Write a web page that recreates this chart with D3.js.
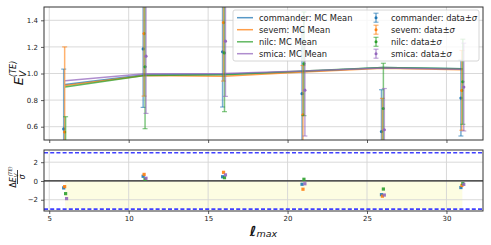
<!DOCTYPE html>
<html>
<head>
<meta charset="utf-8">
<script src="https://cdn.jsdelivr.net/npm/d3@7"></script>
<style>
  html, body { margin: 0; padding: 0; background: #fff; }
  svg { display: block; font-family: "DejaVu Sans", sans-serif; }
</style>
</head>
<body>
<svg id="chart" width="491" height="245"></svg>
<script>
// data
var lmax = [6, 11, 16, 21, 26, 31];
var maps = ['commander', 'sevem', 'nilc', 'smica'];
var colors = ['#1f77b4', '#ff7f0e', '#2ca02c', '#9467bd'];
var offsets = [-0.09, -0.03, 0.03, 0.09];

var mcMean = {
    commander: [0.917, 0.990, 0.995, 1.015, 1.045, 1.035],
    sevem:     [0.910, 0.985, 0.980, 1.012, 1.040, 1.028],
    nilc:      [0.898, 0.985, 0.990, 1.018, 1.045, 1.035],
    smica:     [0.945, 0.998, 1.000, 1.018, 1.042, 1.032]
};
var dataVal = {
    commander: [0.583, 1.185, 1.163, 0.848, 0.563, 0.815],
    sevem:     [0.560, 1.300, 1.383, 0.690, 0.439, 0.873],
    nilc:      [0.045, 1.050, 1.155, 1.073, 0.737, 0.938],
    smica:     [-0.195, 1.130, 1.243, 0.875, 0.577, 0.898]
};
var dataSigma = {
    commander: [0.45, 0.44, 0.415, 0.48, 0.315, 0.285],
    sevem:     [0.64, 0.47, 0.44, 0.37, 0.374, 0.30],
    nilc:      [0.63, 0.465, 0.442, 0.39, 0.34, 0.32],
    smica:     [0.60, 0.43, 0.415, 0.345, 0.31, 0.33]
};
var deltaNorm = {
    commander: [-0.74, 0.50, 0.45, -0.35, -1.46, -0.70],
    sevem:     [-0.60, 0.70, 0.92, -0.88, -1.62, -0.48],
    nilc:      [-1.35, 0.18, 0.35, 0.18, -0.86, -0.27],
    smica:     [-1.88, 0.29, 0.65, -0.30, -1.50, -0.36]
};
var topTicks = [0.6, 0.8, 1.0, 1.2, 1.4];
var botTicks = [-2, 0, 2];
var xTicks = [5, 10, 15, 20, 25, 30];

var svg = d3.select('#chart');
var L = 44, R = 483, T1 = 7, B1 = 140, T2 = 150, B2 = 211;

var x = d3.scaleLinear().domain([4.67, 32.3]).range([L, R]);
var yTop = d3.scaleLinear().domain([0.5, 1.5]).range([B1, T1]);
var yBot = d3.scaleLinear().domain([-3.2, 3.3]).range([B2, T2]);

var defs = svg.append('defs');
defs.append('clipPath').attr('id', 'clipTop')
    .append('rect').attr('x', L).attr('y', T1).attr('width', R - L).attr('height', B1 - T1);
defs.append('clipPath').attr('id', 'clipBot')
    .append('rect').attr('x', L).attr('y', T2).attr('width', R - L).attr('height', B2 - T2);

function grid(g, yScale, yVals, y0, y1) {
    g.selectAll('line.gx').data(xTicks).enter().append('line')
        .attr('class', 'gx')
        .attr('x1', d => x(d)).attr('x2', d => x(d))
        .attr('y1', y0).attr('y2', y1)
        .attr('stroke', '#d5d5d5').attr('stroke-width', 0.9);
    g.selectAll('line.gy').data(yVals).enter().append('line')
        .attr('class', 'gy')
        .attr('x1', L).attr('x2', R)
        .attr('y1', d => yScale(d)).attr('y2', d => yScale(d))
        .attr('stroke', '#d5d5d5').attr('stroke-width', 0.9);
}

// ---- top panel
var gTop = svg.append('g');
grid(gTop, yTop, topTicks, T1, B1);

var plotTop = gTop.append('g').attr('clip-path', 'url(#clipTop)');

var line = d3.line().x(d => x(d[0])).y(d => yTop(d[1]));

maps.forEach(function(m, i) {
    plotTop.append('path')
        .datum(lmax.map((l, j) => [l, mcMean[m][j]]))
        .attr('d', line)
        .attr('fill', 'none')
        .attr('stroke', colors[i])
        .attr('stroke-opacity', 0.75)
        .attr('stroke-width', 1.5);
});

maps.forEach(function(m, i) {
    var pts = lmax.map((l, j) => ({x: l + offsets[i], v: dataVal[m][j], s: dataSigma[m][j]}));
    var eb = plotTop.append('g').selectAll('g').data(pts).enter().append('g');
    eb.append('line')
        .attr('x1', d => x(d.x)).attr('x2', d => x(d.x))
        .attr('y1', d => yTop(d.v - d.s)).attr('y2', d => yTop(d.v + d.s))
        .attr('stroke', colors[i]).attr('stroke-opacity', 0.6).attr('stroke-width', 1.5);
    [-1, 1].forEach(function(sg) {
        eb.append('line')
            .attr('x1', d => x(d.x) - 2.5).attr('x2', d => x(d.x) + 2.5)
            .attr('y1', d => yTop(d.v + sg * d.s)).attr('y2', d => yTop(d.v + sg * d.s))
            .attr('stroke', colors[i]).attr('stroke-opacity', 0.6).attr('stroke-width', 1.2);
    });
    eb.append('circle')
        .attr('cx', d => x(d.x)).attr('cy', d => yTop(d.v))
        .attr('r', 1.6).attr('fill', colors[i]);
});

// ---- bottom panel
var gBot = svg.append('g');
gBot.append('rect')
    .attr('x', x(6)).attr('width', x(31) - x(6))
    .attr('y', yBot(0)).attr('height', yBot(-3) - yBot(0))
    .attr('fill', '#fdfde2');
grid(gBot, yBot, botTicks, T2, B2);
var plotBot = gBot.append('g').attr('clip-path', 'url(#clipBot)');

plotBot.selectAll('line.th').data([3, -3]).enter().append('line')
    .attr('x1', L).attr('x2', R)
    .attr('y1', d => yBot(d)).attr('y2', d => yBot(d))
    .attr('stroke', '#4040ff').attr('stroke-width', 1.6)
    .attr('stroke-dasharray', '4,2.2');
plotBot.append('line')
    .attr('x1', L).attr('x2', R)
    .attr('y1', yBot(0)).attr('y2', yBot(0))
    .attr('stroke', '#222').attr('stroke-width', 1.3);

maps.forEach(function(m, i) {
    plotBot.append('g').selectAll('rect').data(lmax.map((l, j) => [l + offsets[i], deltaNorm[m][j]]))
        .enter().append('rect')
        .attr('x', d => x(d[0]) - 1.6).attr('y', d => yBot(d[1]) - 1.6)
        .attr('width', 3.2).attr('height', 3.2)
        .attr('fill', colors[i]).attr('fill-opacity', 0.9);
});

// ---- axes
function styleAxis(g) {
    g.selectAll('.domain').remove();
    g.selectAll('.tick line').attr('stroke', '#333').attr('stroke-width', 0.8);
    g.selectAll('.tick text').attr('fill', '#222').attr('font-size', '7px')
        .attr('font-family', '"DejaVu Sans", sans-serif');
}
svg.append('g').attr('transform', 'translate(' + L + ',0)')
    .call(d3.axisLeft(yTop).tickValues(topTicks).tickSize(3).tickPadding(3).tickFormat(d3.format('.1f')))
    .call(styleAxis);
svg.append('g').attr('transform', 'translate(0,' + B1 + ')')
    .call(d3.axisBottom(x).tickValues(xTicks).tickSize(3).tickFormat(''))
    .call(styleAxis);
svg.append('g').attr('transform', 'translate(' + L + ',0)')
    .call(d3.axisLeft(yBot).tickValues(botTicks).tickSize(3).tickPadding(3).tickFormat(d => d < 0 ? '\u2212' + Math.abs(d) : d))
    .call(styleAxis);
svg.append('g').attr('transform', 'translate(0,' + B2 + ')')
    .call(d3.axisBottom(x).tickValues(xTicks).tickSize(3).tickPadding(2))
    .call(styleAxis);

// frames
[[T1, B1], [T2, B2]].forEach(function(p) {
    svg.append('rect').attr('x', L).attr('y', p[0]).attr('width', R - L).attr('height', p[1] - p[0])
        .attr('fill', 'none').attr('stroke', '#333').attr('stroke-width', 1);
});

// ---- legend
var lg = svg.append('g');
lg.append('rect').attr('x', 233).attr('y', 10).attr('width', 246).attr('height', 51)
    .attr('rx', 2).attr('fill', '#fff').attr('fill-opacity', 0.8)
    .attr('stroke', '#cccccc').attr('stroke-width', 0.8);
var rowY = [17.7, 29.7, 41.8, 53.7];
maps.forEach(function(m, i) {
    var y = rowY[i];
    lg.append('line').attr('x1', 237).attr('x2', 253).attr('y1', y).attr('y2', y)
        .attr('stroke', colors[i]).attr('stroke-opacity', 0.75).attr('stroke-width', 1.5);
    lg.append('text').attr('x', 259).attr('y', y + 3).attr('font-size', '8.3px').attr('fill', '#222')
        .text(m + ': MC Mean');
    lg.append('line').attr('x1', 376).attr('x2', 376).attr('y1', y - 4.5).attr('y2', y + 4.5)
        .attr('stroke', colors[i]).attr('stroke-opacity', 0.6).attr('stroke-width', 1.5);
    [-4.5, 4.5].forEach(function(dy) {
        lg.append('line').attr('x1', 373.5).attr('x2', 378.5).attr('y1', y + dy).attr('y2', y + dy)
            .attr('stroke', colors[i]).attr('stroke-opacity', 0.6).attr('stroke-width', 1.2);
    });
    lg.append('circle').attr('cx', 376).attr('cy', y).attr('r', 1.5).attr('fill', colors[i]);
    var t = lg.append('text').attr('x', 391).attr('y', y + 3).attr('font-size', '8.3px').attr('fill', '#222');
    t.append('tspan').text(m + ': data\u00b1');
    t.append('tspan').attr('font-style', 'italic').text('\u03c3');
});

// ---- labels
var yl = svg.append('text').attr('transform', 'translate(23,73) rotate(-90)')
    .attr('text-anchor', 'middle').attr('font-size', '13px').attr('fill', '#111')
    .attr('font-style', 'italic');
yl.append('tspan').text('E');
yl.append('tspan').attr('font-size', '9px').attr('dy', 3).text('V');
yl.append('tspan').attr('font-size', '8px').attr('dx', -6).attr('dy', -10).text('(TE)');

var fr = svg.append('g').attr('transform', 'translate(17.5,177) rotate(-90)').attr('fill', '#111');
var num = fr.append('text').attr('text-anchor', 'middle').attr('y', -2).attr('font-size', '8px');
num.append('tspan').text('\u0394');
num.append('tspan').attr('font-style', 'italic').text('E');
num.append('tspan').attr('font-style', 'italic').attr('font-size', '5.5px').attr('dy', 2).text('V');
num.append('tspan').attr('font-style', 'italic').attr('font-size', '5px').attr('dx', -3).attr('dy', -6).text('(TE)');
fr.append('line').attr('x1', -7).attr('x2', 7).attr('y1', 0).attr('y2', 0)
    .attr('stroke', '#111').attr('stroke-width', 0.8);
fr.append('text').attr('text-anchor', 'middle').attr('y', 7.5).attr('font-size', '8px')
    .attr('font-style', 'italic').text('\u03c3');

var xl = svg.append('text').attr('x', 263.5).attr('y', 236).attr('text-anchor', 'middle')
    .attr('fill', '#111');
xl.append('tspan').attr('font-size', '14px').attr('font-weight', 'bold').attr('font-style', 'italic').text('\u2113');
xl.append('tspan').attr('font-size', '9.5px').attr('font-style', 'italic').attr('dy', 1).text('max');
</script>
</body>
</html>
